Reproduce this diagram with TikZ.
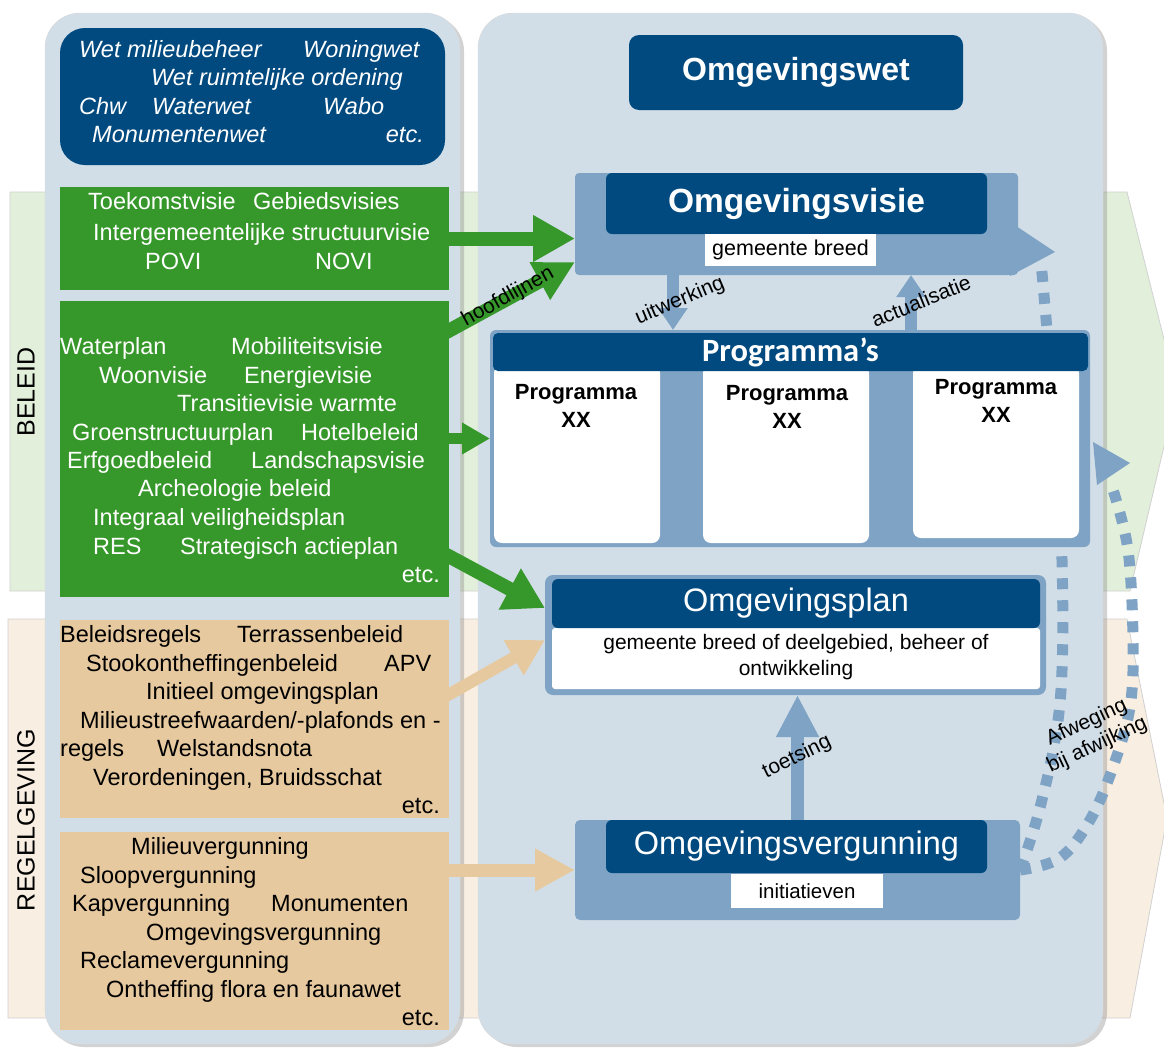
\documentclass[tikz,border=0pt]{standalone}
\usepackage{fontspec}
\setmainfont{Liberation Sans}
\newfontfamily\carlito{Carlito}
\usetikzlibrary{arrows.meta,shadows,calc}
\definecolor{dblue}{RGB}{0,74,128}
\definecolor{mblue}{RGB}{127,163,196}
\definecolor{pbg}{RGB}{209,222,232}
\definecolor{gbox}{RGB}{54,152,42}
\definecolor{tbox}{RGB}{231,201,159}
\definecolor{gband}{RGB}{226,239,218}
\definecolor{tband}{RGB}{248,238,225}
\newcommand{\fs}[1]{\fontsize{#1}{#1}\selectfont}
\tikzset{
  bxs/.style={anchor=north west, inner sep=0pt, outer sep=0pt},
  tx/.style={anchor=base west, inner sep=0pt, font=\fs{23.5}},
  txe/.style={anchor=base east, inner sep=0pt, font=\fs{23.5}},
  lw/.style={anchor=base west, inner sep=0pt, text=white, font=\itshape\fs{23.5}},
  lwe/.style={anchor=base east, inner sep=0pt, text=white, font=\itshape\fs{23.5}},
  lbl/.style={inner sep=0pt, font=\fs{21}},
  fatarrow/.style n args={4}{draw=#1, line width=#2pt, -{Triangle[width=#3pt,length=#4pt]}},
  dotline/.style={draw=mblue, line width=11pt, dash pattern=on 11pt off 11pt},
}
\begin{document}
\begin{tikzpicture}[x=1pt,y=-1pt]
\useasboundingbox (0,0) rectangle (1164,1047);
\fill[white] (0,0) rectangle (1164,1047);
% bands
\path[fill=gband, draw=black!18, line width=0.8pt] (10,192) -- (1127,192) -- (1177,391) -- (1130,591) -- (10,591) -- cycle;
\path[fill=tband, draw=black!18, line width=0.8pt] (8,619) -- (1127,619) -- (1167,818) -- (1130,1018) -- (8,1018) -- cycle;
\node[rotate=90, font=\fs{25}] (beleid) at (26,392) {BELEID};
\node[rotate=90, font=\fs{25}] (regel) at (26,820) {REGELGEVING};

% panels
\node[bxs, fill=pbg, draw=black!15, rounded corners=35pt, minimum width=415pt, minimum height=1031pt,
  drop shadow={shadow xshift=4pt, shadow yshift=-3pt, opacity=0.35}] (lp) at (45,13) {};
\node[bxs, fill=pbg, draw=black!15, rounded corners=35pt, minimum width=625pt, minimum height=1031pt,
  drop shadow={shadow xshift=4pt, shadow yshift=-3pt, opacity=0.35}] (rp) at (478,13) {};

% left boxes
\node[bxs, fill=dblue, rounded corners=25pt, minimum width=385pt, minimum height=137pt] (laws) at (60,28) {};
\node[bxs, fill=gbox, minimum width=389pt, minimum height=103pt] (g1) at (60,187) {};
\node[bxs, fill=gbox, minimum width=389pt, minimum height=296pt] (g2) at (60,301) {};
\node[bxs, fill=tbox, minimum width=389pt, minimum height=198pt] (o1) at (60,620) {};
\node[bxs, fill=tbox, minimum width=389pt, minimum height=198pt] (o2) at (60,832) {};

% texts in law box
\node[lw] (l1) at (79,57) {Wet milieubeheer};
\node[lw] (l2) at (303,57) {Woningwet};
\node[lw] (l3) at (151,85) {Wet ruimtelijke ordening};
\node[lw] (l4) at (79,114) {Chw};
\node[lw] (l5) at (152,114) {Waterwet};
\node[lw] (l6) at (323,114) {Wabo};
\node[lw] (l7) at (92,142) {Monumentenwet};
\node[lwe] (l8) at (424,142) {etc.};

% green texts
\begin{scope}[every node/.append style={text=white}]
\node[tx] (a1) at (88,209) {Toekomstvisie};
\node[tx] (a2) at (253,209) {Gebiedsvisies};
\node[tx] (a3) at (93,240) {Intergemeentelijke structuurvisie};
\node[tx] (a4) at (145,269) {POVI};
\node[tx] (a5) at (315,269) {NOVI};
\node[tx] (b1) at (60,354) {Waterplan};
\node[tx] (b2) at (231,354) {Mobiliteitsvisie};
\node[tx] (b3) at (99,383) {Woonvisie};
\node[tx] (b4) at (244,383) {Energievisie};
\node[tx] (b5) at (177,411) {Transitievisie warmte};
\node[tx] (b6) at (72,440) {Groenstructuurplan};
\node[tx] (b7) at (301,440) {Hotelbeleid};
\node[tx] (b8) at (67,468) {Erfgoedbeleid};
\node[tx] (b9) at (251,468) {Landschapsvisie};
\node[tx] (b10) at (138,496) {Archeologie beleid};
\node[tx] (b11) at (93,525) {Integraal veiligheidsplan};
\node[tx] (b12) at (93,554) {RES};
\node[tx] (b13) at (180,554) {Strategisch actieplan};
\node[txe] (b14) at (440,582) {etc.};
\end{scope}

% tan texts
\node[tx] (c1) at (60,642) {Beleidsregels};
\node[tx] (c2) at (237,642) {Terrassenbeleid};
\node[tx] (c3) at (86,671) {Stookontheffingenbeleid};
\node[tx] (c4) at (384,671) {APV};
\node[tx] (c5) at (146,699) {Initieel omgevingsplan};
\node[tx] (c6) at (80,728) {Milieustreefwaarden/-plafonds en -};
\node[tx] (c7) at (60,756) {regels};
\node[tx] (c8) at (157,756) {Welstandsnota};
\node[tx] (c9) at (93,785) {Verordeningen, Bruidsschat};
\node[txe] (c10) at (440,813) {etc.};
\node[tx] (d1) at (131,854) {Milieuvergunning};
\node[tx] (d2) at (80,883) {Sloopvergunning};
\node[tx] (d3) at (72,911) {Kapvergunning};
\node[tx] (d4) at (271,911) {Monumenten};
\node[tx] (d5) at (146,940) {Omgevingsvergunning};
\node[tx] (d6) at (80,968) {Reclamevergunning};
\node[tx] (d7) at (106,997) {Ontheffing flora en faunawet};
\node[txe] (d8) at (440,1025) {etc.};

% right boxes
\node[bxs, fill=dblue, rounded corners=10pt, minimum width=334pt, minimum height=75pt,
  text=white, font=\bfseries\fs{32}] (wet) at (629,35) {Omgevingswet};

% dotted connectors (behind boxes)
\node[bxs, fill=mblue, rounded corners=5pt, minimum width=445pt, minimum height=100pt] (vergouter) at (575,820) {};
\draw[dotline] plot[smooth, tension=0.6] coordinates {(vergouter.east) (1038,815) (1055,740) (1062,670) (1062,560) (1056,440) (1047,330) (1041,262)};
\draw[dotline] plot[smooth, tension=0.6] coordinates {(vergouter.east) (1060,858) (1090,820) (1113,767) (1130,707) (1133,640) (1128,550) (1113,490)};
\fill[mblue] (1010,222) -- (1055,252) -- (1010,276) -- cycle;
\fill[mblue] (1093,442) -- (1130,463) -- (1097,485) -- cycle;

\node[bxs, fill=mblue, rounded corners=4pt, minimum width=443pt, minimum height=102pt] (visieouter) at (575,173) {};
\node[bxs, fill=dblue, rounded corners=6pt, minimum width=381pt, minimum height=61pt,
  text=white, font=\bfseries\fs{33.5}] (visie) at (606,173) {Omgevingsvisie};
\node[bxs, fill=white, minimum width=171pt, minimum height=32pt, font=\fs{21.5}] (visielabel) at (705,234) {gemeente breed};

\node[bxs, fill=mblue, rounded corners=6pt, minimum width=600pt, minimum height=217pt] (prog) at (490,330) {};
\node[bxs, fill=white, rounded corners=8pt, minimum width=166pt, minimum height=178pt] (pa) at (494,365) {};
\node[bxs, fill=white, rounded corners=8pt, minimum width=166pt, minimum height=178pt] (pb) at (703,365) {};
\node[bxs, fill=white, rounded corners=8pt, minimum width=166pt, minimum height=173pt] (pc) at (913,365) {};
\node[bxs, fill=dblue, rounded corners=5pt, minimum width=595pt, minimum height=38pt,
  text=white, font=\carlito\bfseries\fs{32.5}] (proghead) at (493,333) {Programma’s};
\node[anchor=north, inner sep=0pt, align=center, font=\bfseries\fontsize{22}{28}\selectfont] (pat) at (576,384) {Programma\\XX};
\node[anchor=north, inner sep=0pt, align=center, font=\bfseries\fontsize{22}{28}\selectfont] (pbt) at (787,385) {Programma\\XX};
\node[anchor=north, inner sep=0pt, align=center, font=\bfseries\fontsize{22}{28}\selectfont] (pct) at (996,379) {Programma\\XX};

\node[bxs, fill=mblue, rounded corners=8pt, minimum width=501pt, minimum height=120pt] (planouter) at (545,575) {};
\node[bxs, fill=white, rounded corners=3pt, minimum width=488pt, minimum height=61pt] (planbody) at (552,628) {};
\node[bxs, fill=dblue, rounded corners=6pt, minimum width=488pt, minimum height=49pt,
  text=white, font=\fs{32.5}] (planhead) at (552,579) {Omgevingsplan};
\node[inner sep=0pt, align=center, font=\fontsize{21}{26}\selectfont] (plantext) at (796,657) {gemeente breed of deelgebied, beheer of\\ontwikkeling};

\node[bxs, fill=dblue, rounded corners=6pt, minimum width=381pt, minimum height=53pt,
  text=white, font=\fs{32.5}] (verghead) at (606,820) {Omgevingsvergunning};
\node[bxs, fill=white, minimum width=152pt, minimum height=34pt, font=\fs{20.5}] (verglabel) at (731,874) {initiatieven};

% arrows
\draw[fatarrow={gbox}{14}{44}{42}] ($(g1.east)+(-6,0)$) -- (g1.east -| visieouter.west);
\draw[fatarrow={gbox}{14}{40}{40}] ($(g2.north east)+(-8,34)$) -- ($(visieouter.south west)+(0,-13)$);
\draw[fatarrow={gbox}{11}{30}{28}] ($(g2.east |- prog.west)+(-5,0)$) -- (prog.west);
\draw[fatarrow={gbox}{14}{44}{40}] ($(g2.south east)+(-8,-45)$) -- ($(planouter.north west)+(0,33)$);
\draw[fatarrow={tbox}{12}{38}{36}] ($(o1.east)+(-8,-20)$) -- ($(planouter.west)+(0,5)$);
\draw[fatarrow={tbox}{13}{40}{40}] ($(o2.east |- vergouter.west)+(-5,0)$) -- (vergouter.west);
\draw[fatarrow={mblue}{13}{40}{42}] (vergouter.north) -- (vergouter.north |- planouter.south);
\coordinate (uw) at (673,275);
\coordinate (ac) at (911,330);
\draw[fatarrow={mblue}{12}{28}{22}] (uw) -- (uw |- prog.north);
\draw[fatarrow={mblue}{12}{28}{22}] (ac) -- (ac |- visieouter.south);

% rotated labels
\node[lbl, rotate=29] (hl) at (508,297) {hoofdlijnen};
\node[lbl, rotate=23] (uwl) at (680,301) {uitwerking};
\node[lbl, rotate=22] (acl) at (921,301) {actualisatie};
\node[lbl, rotate=26] (tsl) at (797,757) {toetsing};
\node[lbl, rotate=25, align=center, font=\fontsize{21}{25}\selectfont] (afw) at (1092,734) {Afweging\\bij afwijking};
\end{tikzpicture}
\end{document}
